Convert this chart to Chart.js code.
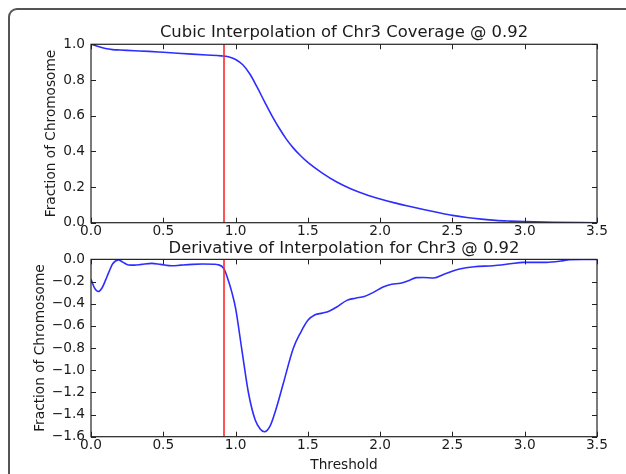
<!DOCTYPE html>
<html>
<head>
<meta charset="utf-8">
<script src="https://cdn.jsdelivr.net/npm/chart.js@4"></script>
<style>
html,body{margin:0;padding:0;background:#fff;overflow:hidden;}
body{width:626px;height:474px;position:relative;}
#frame{position:absolute;left:8px;top:8px;width:700px;height:600px;border:2px solid #555;border-radius:9px;box-sizing:border-box;}
#c1{position:absolute;left:0;top:0;}
#c2{position:absolute;left:0;top:236px;}
</style>
</head>
<body>
<div id="frame"></div>
<canvas id="c1" width="626" height="245"></canvas>
<canvas id="c2" width="626" height="238"></canvas>
<script>
// ---- data ----
const threshold = 0.92;
const topTitle = 'Cubic Interpolation of Chr3 Coverage @ 0.92';
const bottomTitle = 'Derivative of Interpolation for Chr3 @ 0.92';
const yAxisTitle = 'Fraction of Chromosome';
const xAxisTitle = 'Threshold';

const coverageX = [0, 0.05, 0.1, 0.15, 0.2, 0.3, 0.4, 0.5, 0.6, 0.7, 0.8, 0.9, 0.95, 1.0, 1.05, 1.1, 1.15, 1.2, 1.25, 1.3, 1.35, 1.4, 1.45, 1.5, 1.6, 1.7, 1.8, 1.9, 2.0, 2.1, 2.2, 2.3, 2.4, 2.5, 2.6, 2.7, 2.8, 2.9, 3.0, 3.2, 3.5];
const coverageY = [1.0, 0.988, 0.976, 0.970, 0.968, 0.964, 0.960, 0.955, 0.950, 0.945, 0.940, 0.935, 0.930, 0.915, 0.885, 0.832, 0.758, 0.679, 0.602, 0.532, 0.470, 0.418, 0.375, 0.338, 0.278, 0.228, 0.189, 0.158, 0.133, 0.111, 0.092, 0.074, 0.057, 0.041, 0.029, 0.020, 0.013, 0.009, 0.006, 0.002, 0.0];

const derivX = [0.0, 0.025, 0.05, 0.075, 0.1, 0.125, 0.15, 0.19, 0.22, 0.26, 0.3, 0.35, 0.42, 0.48, 0.56, 0.62, 0.7, 0.77, 0.85, 0.88, 0.92, 0.95, 0.975, 1.0, 1.044, 1.09, 1.136, 1.17, 1.2, 1.24, 1.28, 1.33, 1.4, 1.45, 1.5, 1.55, 1.6, 1.65, 1.7, 1.77, 1.83, 1.89, 1.95, 2.02, 2.08, 2.14, 2.2, 2.25, 2.3, 2.37, 2.45, 2.55, 2.65, 2.78, 2.9, 2.99, 3.15, 3.25, 3.31, 3.4, 3.5];
const derivY = [-0.18, -0.26, -0.29, -0.26, -0.19, -0.11, -0.04, -0.005, -0.025, -0.05, -0.052, -0.045, -0.036, -0.045, -0.058, -0.052, -0.045, -0.042, -0.044, -0.048, -0.085, -0.19, -0.30, -0.44, -0.82, -1.21, -1.45, -1.53, -1.555, -1.50, -1.35, -1.12, -0.80, -0.66, -0.55, -0.50, -0.485, -0.465, -0.43, -0.37, -0.35, -0.335, -0.30, -0.25, -0.225, -0.215, -0.19, -0.165, -0.163, -0.168, -0.13, -0.087, -0.066, -0.057, -0.04, -0.027, -0.027, -0.015, -0.002, 0.0, 0.0];

const xTicks = [0, 0.5, 1.0, 1.5, 2.0, 2.5, 3.0, 3.5];
const topYTicks = [0, 0.2, 0.4, 0.6, 0.8, 1.0];
const bottomYTicks = [-1.6, -1.4, -1.2, -1.0, -0.8, -0.6, -0.4, -0.2, 0.0];

// ---- helpers ----
const FONT = 'DejaVu Sans';
const TXT = '#1a1a1a';
const TICK_SIZE = 13.7;
const TITLE_SIZE = 16.4;
const fmt = v => (v < -1e-9 ? '\u2212' : '') + Math.abs(v).toFixed(1);
const pts = (xs, ys) => xs.map((x, i) => ({x, y: ys[i]}));

const mplFrame = {
  id: 'mplFrame',
  afterDatasetsDraw(chart) {
    const {ctx, chartArea: a, scales: {x, y}} = chart;
    ctx.save();
    ctx.strokeStyle = '#222';
    ctx.lineWidth = 1.2;
    ctx.strokeRect(a.left, a.top, a.right - a.left, a.bottom - a.top);
    const L = 5;
    ctx.beginPath();
    x.ticks.forEach(t => {
      const px = Math.round(x.getPixelForValue(t.value)) + 0.5;
      ctx.moveTo(px, a.bottom); ctx.lineTo(px, a.bottom - L);
      ctx.moveTo(px, a.top); ctx.lineTo(px, a.top + L);
    });
    y.ticks.forEach(t => {
      const py = Math.round(y.getPixelForValue(t.value)) + 0.5;
      ctx.moveTo(a.left, py); ctx.lineTo(a.left + L, py);
      ctx.moveTo(a.right, py); ctx.lineTo(a.right - L, py);
    });
    ctx.lineWidth = 1;
    ctx.stroke();
    ctx.restore();
  }
};

function makeChart(id, o) {
  return new Chart(document.getElementById(id), {
    type: 'scatter',
    data: {
      datasets: [
        {data: o.data, showLine: true, borderColor: 'rgb(45,45,255)', borderWidth: 1.6,
         pointRadius: 0, cubicInterpolationMode: 'monotone', order: 2},
        {data: [{x: threshold, y: o.yMin}, {x: threshold, y: o.yMax}], showLine: true,
         borderColor: 'rgb(255,40,40)', borderWidth: 1.6, pointRadius: 0, order: 1}
      ]
    },
    options: {
      responsive: false, animation: false, events: [],
      layout: {padding: {left: 0, right: 29, top: 0, bottom: 0}},
      plugins: {
        legend: {display: false}, tooltip: {enabled: false},
        title: {display: true, text: o.title, color: TXT, fullSize: false,
          font: {family: FONT, size: TITLE_SIZE, weight: 'normal', lineHeight: 1.2},
          padding: o.titlePad}
      },
      scales: {
        x: {
          type: 'linear', min: 0, max: 3.5,
          afterBuildTicks: s => { s.ticks = xTicks.map(v => ({value: v})); },
          afterFit: s => { s.height = o.xHeight; },
          grid: {display: false, drawTicks: false},
          border: {display: false},
          ticks: {padding: 1, color: TXT, font: {family: FONT, size: TICK_SIZE}, callback: fmt, autoSkip: false, maxRotation: 0},
          title: o.xTitle ? {display: true, text: o.xTitle, color: TXT, font: {family: FONT, size: TICK_SIZE, lineHeight: 1.2}, padding: {top: 0, bottom: o.xTitlePadBottom}} : {display: false}
        },
        y: {
          type: 'linear', min: o.yMin, max: o.yMax,
          afterBuildTicks: s => { s.ticks = o.yTicks.map(v => ({value: v})); },
          afterFit: s => { s.width = 91; },
          grid: {display: false, drawTicks: false},
          border: {display: false},
          ticks: {padding: 6, color: TXT, font: {family: FONT, size: TICK_SIZE}, callback: fmt, autoSkip: false},
          title: {display: true, text: yAxisTitle, color: TXT, font: {family: FONT, size: TICK_SIZE, lineHeight: 1.2}, padding: {top: o.yTitlePad, bottom: 0}}
        }
      }
    },
    plugins: [mplFrame]
  });
}

makeChart('c1', {
  data: pts(coverageX, coverageY), title: topTitle, yMin: 0, yMax: 1.0, yTicks: topYTicks,
  titlePad: {top: 23.2, bottom: 1.4}, xHeight: 22.3, yTitlePad: 42.8
});
makeChart('c2', {
  data: pts(derivX, derivY), title: bottomTitle, yMin: -1.6, yMax: 0, yTicks: bottomYTicks,
  titlePad: {top: 2.5, bottom: 1.2}, xHeight: 37.3, yTitlePad: 31.8, xTitle: xAxisTitle, xTitlePadBottom: 0.8
});
</script>
</body>
</html>
